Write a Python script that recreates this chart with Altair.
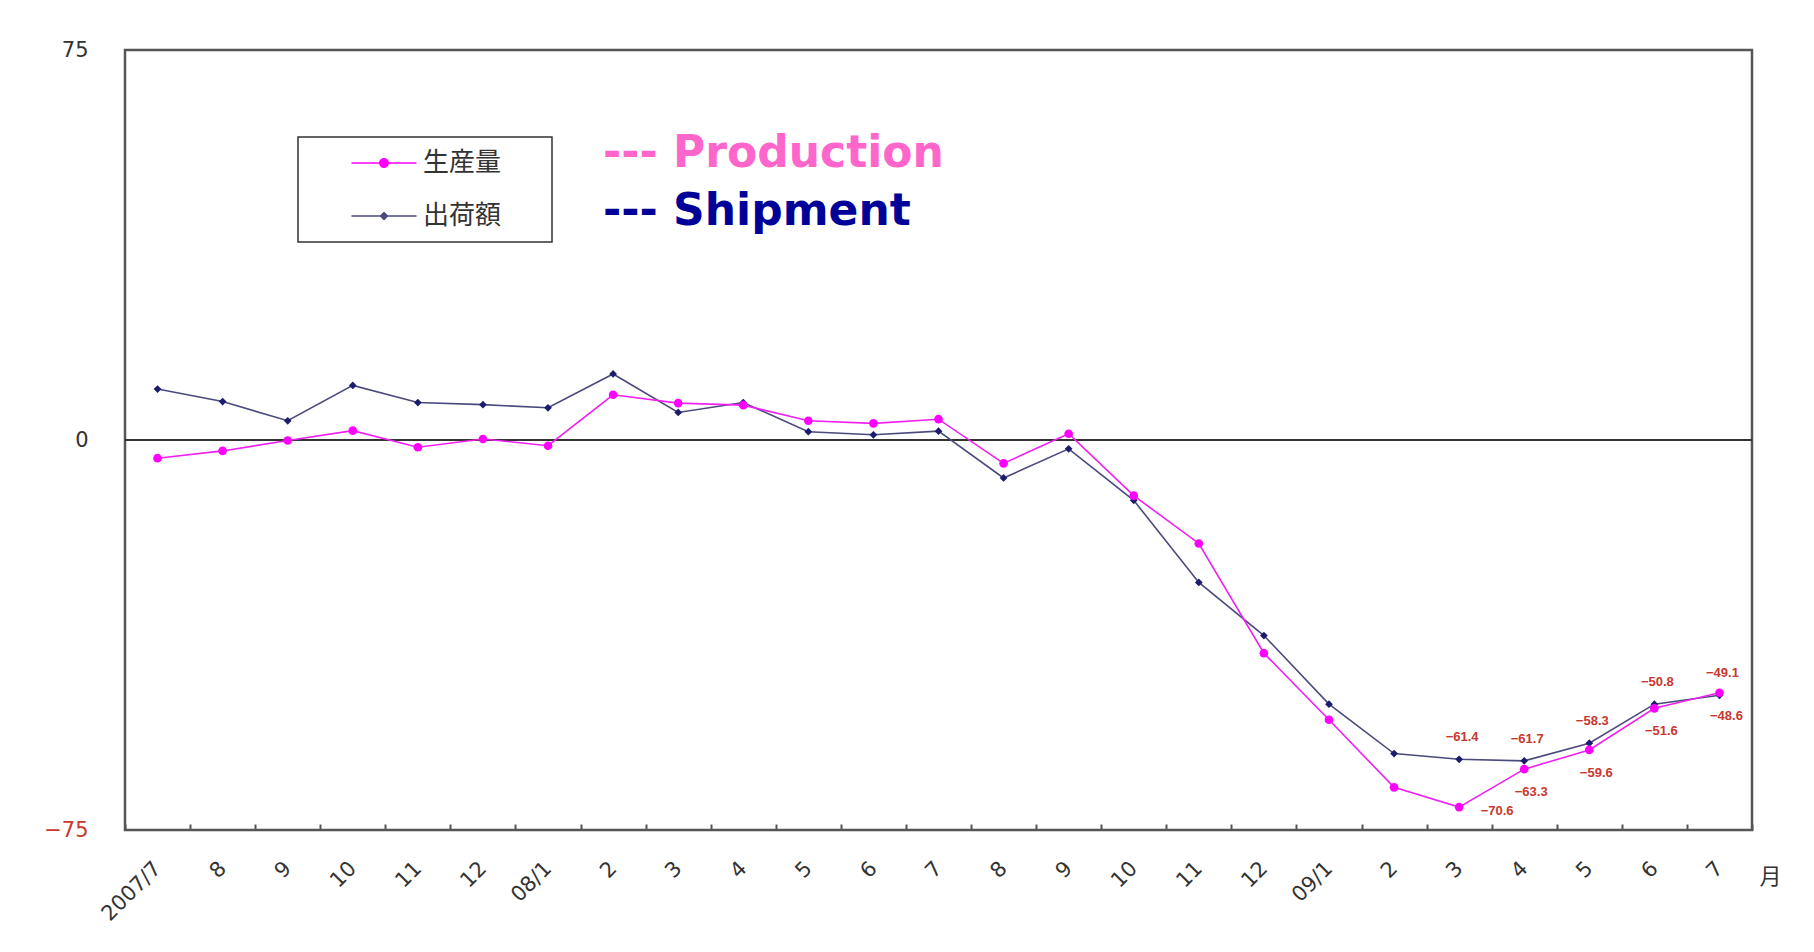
import json
import altair as alt
import pandas as pd

# ---------------- data ----------------
months = ["2007/7", "2007/8", "2007/9", "2007/10", "2007/11", "2007/12",
          "2008/1", "2008/2", "2008/3", "2008/4", "2008/5", "2008/6",
          "2008/7", "2008/8", "2008/9", "2008/10", "2008/11", "2008/12",
          "2009/1", "2009/2", "2009/3", "2009/4", "2009/5", "2009/6", "2009/7"]
tick_labels = ["2007/7", "8", "9", "10", "11", "12", "08/1", "2", "3", "4", "5", "6",
               "7", "8", "9", "10", "11", "12", "09/1", "2", "3", "4", "5", "6", "7"]
production = [-3.5, -2.1, -0.1, 1.8, -1.4, 0.2, -1.1, 8.7, 7.1, 6.7, 3.7, 3.2,
              4.0, -4.5, 1.2, -10.7, -19.9, -41.0, -53.8, -66.8, -70.6, -63.3, -59.6, -51.6, -48.6]
shipment = [9.8, 7.4, 3.7, 10.5, 7.2, 6.8, 6.2, 12.7, 5.3, 7.2, 1.6, 1.0,
            1.7, -7.3, -1.7, -11.6, -27.4, -37.6, -50.8, -60.3, -61.4, -61.7, -58.3, -50.8, -49.1]
labeled_months = ["2009/3", "2009/4", "2009/5", "2009/6", "2009/7"]
series_names = ["生産量", "出荷額"]
annotations = ["--- Production", "--- Shipment"]
x_unit = "月"
y_ticks = [-75, 0, 75]

df = pd.DataFrame({"month": months, "production": production, "shipment": shipment})
leg_df = pd.DataFrame({"series": series_names})
zero_df = pd.DataFrame({"y": [0]})

# ---------------- styles ----------------
PINK = "#f020f0"
PINK_PT = "#ff00ff"
NAVY_LINE = "#4a4a7e"
NAVY_PT = "#1c1c6e"
LABEL_RED = "#c8382e"
CJK = "Noto Sans CJK JP"
W, H = 1627, 780

label_expr = f"{json.dumps(tick_labels)}[indexof({json.dumps(months)}, datum.value)]"

xaxis = alt.Axis(
    title=x_unit, labelExpr=label_expr, labelAngle=315, labelAlign="right",
    labelBaseline="middle", labelPadding=35, labelFontSize=21, labelFont="DejaVu Sans",
    labelColor="#333333", tickBand="extent", tickSize=6, tickWidth=2,
    tickColor="#555555", domain=False, offset=-6, grid=False,
    titleX=1645, titleY=52, titleAngle=0, titleAlign="center",
    titleBaseline="middle", titleFontSize=22, titleFontWeight="normal",
    titleFont=CJK, titleColor="#333333",
)
yaxis = alt.Axis(
    values=y_ticks, title=None, domain=False, ticks=False, grid=False,
    labelFontSize=21, labelFont="DejaVu Sans", labelPadding=37,
    labelColor={"condition": {"test": "datum.value < 0", "value": LABEL_RED},
                "value": "#333333"},
)
xscale = alt.Scale(type="band", paddingInner=0, paddingOuter=0)
yscale = alt.Scale(domain=[-75, 75], nice=False, zero=False)


def X():
    return alt.X("month:N", sort=months, bandPosition=0.5, scale=xscale, axis=xaxis)


def Y(field):
    return alt.Y(f"{field}:Q", scale=yscale, axis=yaxis)


base = alt.Chart(df)

zero_rule = alt.Chart(zero_df).mark_rule(color="#333333", strokeWidth=2).encode(
    y=alt.Y("y:Q", scale=yscale, axis=yaxis))

ship_line = base.mark_line(color=NAVY_LINE, strokeWidth=1.6).encode(x=X(), y=Y("shipment"))
prod_line = base.mark_line(color=PINK, strokeWidth=1.6).encode(x=X(), y=Y("production"))
ship_pts = base.mark_point(filled=True, shape="diamond", size=60, color=NAVY_PT,
                           opacity=1).encode(x=X(), y=Y("shipment"))
prod_pts = base.mark_point(filled=True, shape="circle", size=75, color=PINK_PT,
                           opacity=1).encode(x=X(), y=Y("production"))

lab_base = base.transform_filter(alt.FieldOneOfPredicate(field="month", oneOf=labeled_months))
txt_style = dict(font="Liberation Sans", fontSize=13, fontWeight="bold", color=LABEL_RED,
                 baseline="middle", align="center")
ship_lab = lab_base.mark_text(dx=3, dy=-22, **txt_style).encode(
    x=X(), y=Y("shipment"), text=alt.Text("shipment:Q", format=".1f"))
prod_lab_min = lab_base.transform_joinaggregate(pmin="min(production)").transform_filter(
    "datum.production == datum.pmin").mark_text(dx=38, dy=4, **txt_style).encode(
    x=X(), y=Y("production"), text=alt.Text("production:Q", format=".1f"))
prod_lab = lab_base.transform_joinaggregate(pmin="min(production)").transform_filter(
    "datum.production != datum.pmin").mark_text(dx=7, dy=23, **txt_style).encode(
    x=X(), y=Y("production"), text=alt.Text("production:Q", format=".1f"))

# legend (symbols: line stub + marker)
path_prod = "M-3.25,-0.075H3.25V0.075H-3.25Z M0.5,0A0.5,0.5,0,1,1,-0.5,0A0.5,0.5,0,1,1,0.5,0Z"
path_ship = "M-3.25,-0.075H3.25V0.075H-3.25Z M0,-0.45L0.45,0L0,0.45L-0.45,0Z"
legend = alt.Legend(
    title="■", titleOrient="right", titleColor="white", titleFontSize=24,
    titlePadding=14, titleFont=CJK,
    orient="none", legendX=173, legendY=87, padding=13, rowPadding=27,
    symbolSize=400, symbolOffset=60, labelOffset=26, labelFont=CJK, labelFontSize=26,
    labelColor="#333333", strokeColor="#333333", fillColor="white",
)
legend_layer = alt.Chart(leg_df).mark_point(filled=True, size=400, opacity=1, clip=True).encode(
    x=alt.value(-500), y=alt.value(-500),
    color=alt.Color("series:N", scale=alt.Scale(domain=series_names, range=[PINK_PT, NAVY_LINE]),
                    legend=legend),
    shape=alt.Shape("series:N", scale=alt.Scale(domain=series_names, range=[path_prod, path_ship]),
                    legend=legend),
)

ann_style = dict(font="DejaVu Sans", fontSize=44, fontWeight="bold", align="left",
                 baseline="alphabetic")
ann_prod = alt.Chart(pd.DataFrame({"t": [annotations[0]]})).mark_text(
    color="#ff66cc", **ann_style).encode(x=alt.value(478), y=alt.value(117), text="t:N")
ann_ship = alt.Chart(pd.DataFrame({"t": [annotations[1]]})).mark_text(
    color="#000099", **ann_style).encode(x=alt.value(478), y=alt.value(175), text="t:N")

chart = alt.layer(
    zero_rule, ship_line, prod_line, ship_pts, prod_pts,
    ship_lab, prod_lab_min, prod_lab, legend_layer, ann_prod, ann_ship,
).properties(
    width=W, height=H,
    autosize=alt.AutoSizeParams(type="none"),
    padding={"left": 117, "top": 42, "right": 40, "bottom": 100},
    background="white",
).configure_view(
    stroke="#555555", strokeWidth=2.5,
).configure_legend(
    strokeWidth=1.5,
)

chart.save("out.html", embed_options={"renderer": "svg", "actions": False})
